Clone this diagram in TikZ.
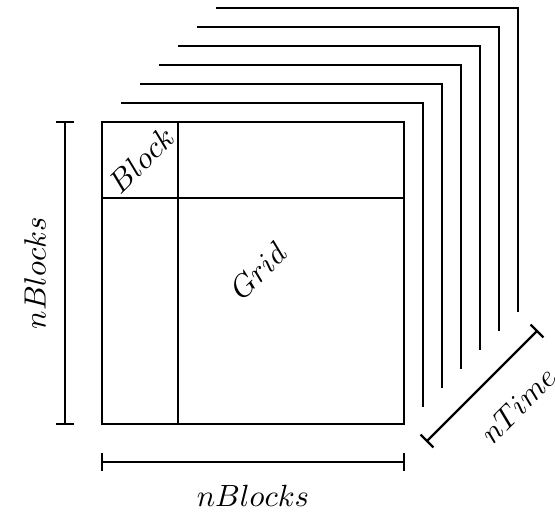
\documentclass[tikz,border=0pt]{standalone}
\usetikzlibrary{calc}
\begin{document}
\begin{tikzpicture}[x=0.326pt,y=-0.326pt,
  frame/.style={draw=black,line width=0.35pt},
  dimline/.style={draw=black,line width=0.75pt},
  tick/.style={draw=black,line width=0.75pt},
  lbl/.style={inner sep=0pt,font=\normalsize}]
\useasboundingbox (0,0) rectangle (555,518);

% time slices stacked behind the grid (top and right edges only)
\foreach \k in {6,5,...,1}{
  \draw[frame] ({102+19*\k},{122-19*\k}) -- ({404+19*\k},{122-19*\k}) -- ({404+19*\k},{426-19*\k});
}

% the grid and its first block
\coordinate (gtl) at (102,122);
\coordinate (gbr) at (404,424);
\draw[frame] (gtl) rectangle (gbr);
\draw[frame] (178,122) -- (178,424);
\draw[frame] (102,198) -- (404,198);
\node[lbl,rotate=45] (block) at (141,160) {$Block$};
\node[lbl,rotate=45] (grid) at (258,271) {$Grid$};

% vertical extent
\coordinate (va) at (65,122);
\coordinate (vb) at (65,424);
\draw[dimline] (va) -- (vb);
\draw[tick] ($(va)+(-9,0)$) -- ($(va)+(9,0)$);
\draw[tick] ($(vb)+(-9,0)$) -- ($(vb)+(9,0)$);
\node[lbl,rotate=90] (vlabel) at (35,273) {$nBlocks$};

% horizontal extent
\coordinate (ha) at (102,462);
\coordinate (hb) at (404,462);
\draw[dimline] (ha) -- (hb);
\draw[tick] ($(ha)+(0,-9)$) -- ($(ha)+(0,9)$);
\draw[tick] ($(hb)+(0,-9)$) -- ($(hb)+(0,9)$);
\node[lbl] (hlabel) at (253,496) {$nBlocks$};

% time extent
\coordinate (ta) at (427,441);
\coordinate (tb) at (537,331);
\draw[dimline] (ta) -- (tb);
\draw[tick] ($(ta)+(-6.4,-6.4)$) -- ($(ta)+(6.4,6.4)$);
\draw[tick] ($(tb)+(-6.4,-6.4)$) -- ($(tb)+(6.4,6.4)$);
\node[lbl,rotate=45] (tlabel) at (518,405) {$nTime$};
\end{tikzpicture}
\end{document}
